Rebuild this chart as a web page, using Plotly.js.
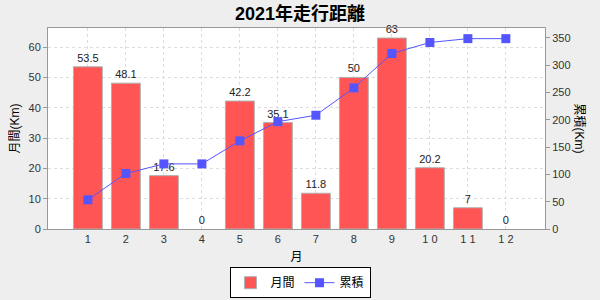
<!DOCTYPE html>
<html><head><meta charset="utf-8">
<script src="https://cdn.plot.ly/plotly-3.0.1.min.js"></script>
<style>body{margin:0;background:#eeeeee}</style>
</head><body>
<div id="chart" style="width:600px;height:300px"></div>
<script>
const months = ["1","2","3","4","5","6","7","8","9","1 0","1 1","1 2"];
const monthly = [53.5, 48.1, 17.6, 0, 42.2, 35.1, 11.8, 50, 63, 20.2, 7, 0];
const cumulative = [53.5, 101.6, 119.2, 119.2, 161.4, 196.5, 208.3, 258.3, 321.3, 341.5, 348.5, 348.5];

const font = "Liberation Sans, 'Noto Sans CJK JP', sans-serif";

const traces = [
  {
    type: 'bar', name: '月間', x: months, y: monthly,
    marker: {color: '#ff5555', line: {color: '#b0b0b0', width: monthly.map(v => v === 0 ? 0 : 1)}},
    width: 0.76,
    text: monthly.map(String), textposition: 'outside', cliponaxis: false,
    textfont: {size: 11, color: '#222', family: font},
    yaxis: 'y'
  },
  {
    type: 'scatter', mode: 'lines+markers', name: '累積', x: months, y: cumulative,
    line: {color: '#5555ff', width: 1},
    marker: {color: '#5555ff', symbol: 'square', size: 9},
    yaxis: 'y2'
  }
];

const layout = {
  width: 600, height: 300,
  paper_bgcolor: '#eeeeee', plot_bgcolor: '#ffffff',
  margin: {l: 48, r: 55, t: 28, b: 71, autoexpand: false},
  font: {family: font, size: 11, color: '#333'},
  title: {text: '<b>2021年走行距離</b>', x: 0.5, xanchor: 'center', y: 0.955, yanchor: 'middle',
          font: {size: 18, color: '#000', family: font}},
  showlegend: true,
  legend: {orientation: 'h', x: 0.5, xanchor: 'center', xref: 'container',
           y: 0.006, yanchor: 'bottom', yref: 'container',
           bordercolor: '#000', borderwidth: 1, bgcolor: '#ffffff',
           font: {size: 12, color: '#000'}, itemwidth: 30, tracegroupgap: 0},
  xaxis: {
    type: 'category', range: [-1.05, 12.03], automargin: false,
    showgrid: true, gridcolor: '#dddddd', griddash: '3px,3px', gridwidth: 1,
    showline: true, linecolor: '#999', mirror: true, linewidth: 1,
    ticks: '', tickfont: {size: 11, color: '#333'},
    title: {text: '月', font: {size: 12, color: '#000'}, standoff: 8}
  },
  yaxis: {
    range: [0, 66.3], dtick: 10, automargin: false,
    showgrid: true, gridcolor: '#dddddd', griddash: '3px,3px', gridwidth: 1,
    zeroline: false, showline: true, linecolor: '#999', linewidth: 1,
    ticks: 'outside', ticklen: 4, tickcolor: '#999',
    tickfont: {size: 11, color: '#333'},
    title: {text: '月間(Km)', font: {size: 12, color: '#000'}, standoff: 6}
  },
  yaxis2: {
    overlaying: 'y', side: 'right', range: [0, 368], dtick: 50, automargin: false,
    showgrid: false, zeroline: false, showline: true, linecolor: '#999', linewidth: 1,
    ticks: 'outside', ticklen: 4, tickcolor: '#999',
    tickfont: {size: 11, color: '#333'}
  },
  annotations: [
    {text: '累積(Km)', xref: 'paper', yref: 'paper', x: 1.0, xshift: 34, y: 0.5,
     xanchor: 'center', yanchor: 'middle', textangle: 90, showarrow: false,
     font: {size: 12, color: '#000'}}
  ]
};

Plotly.newPlot('chart', traces, layout, {displayModeBar: false, staticPlot: true});
</script>
</body></html>
